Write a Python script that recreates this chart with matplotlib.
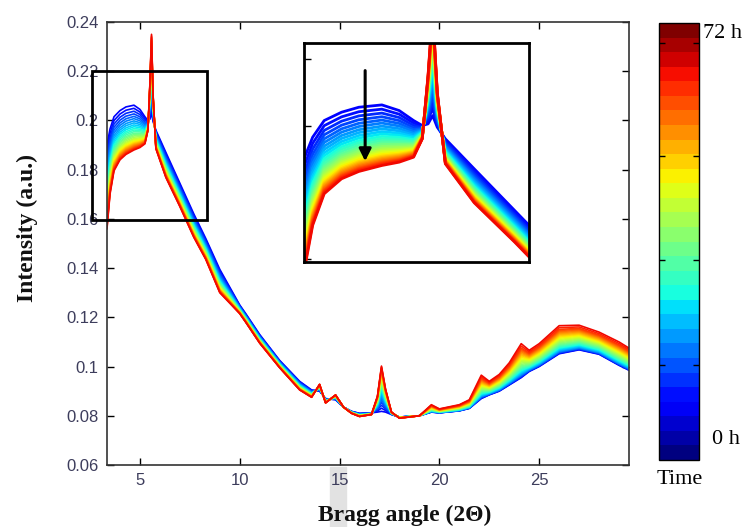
import numpy as np
import matplotlib
matplotlib.use("Agg")
import matplotlib.pyplot as plt
from matplotlib.colors import Normalize
from matplotlib.cm import ScalarMappable
from matplotlib.patches import Rectangle

# ---------------- data ----------------
two_theta = [3.35, 3.5, 3.7, 4.0, 4.3, 4.7, 5.0, 5.25, 5.4, 5.5, 5.58, 5.66, 5.8,
             6.3, 7.0, 7.7, 8.3, 9.0, 10.0, 10.3, 11.0, 12.0, 13.0, 13.6, 14.0,
             14.3, 14.8, 15.2, 15.6, 16.0, 16.6, 16.9, 17.1, 17.3, 17.6, 18.0,
             19.0, 19.6, 20.0, 21.0, 21.5, 22.1, 22.5, 23.0, 23.5, 24.1, 24.5,
             25.0, 26.0, 27.0, 28.0, 29.0, 29.5]
intensity_0h = [0.1900, 0.1965, 0.2015, 0.2040, 0.2055, 0.2062, 0.2045, 0.2015,
                0.2000, 0.2005, 0.2030, 0.1995, 0.1960, 0.1870, 0.1745, 0.1620,
                0.1520, 0.1395, 0.1250, 0.1215, 0.1130, 0.1025, 0.0940, 0.0905,
                0.0900, 0.0870, 0.0865, 0.0835, 0.0818, 0.0810, 0.0812, 0.0815,
                0.0818, 0.0815, 0.0805, 0.0795, 0.0800, 0.0815, 0.0812, 0.0820,
                0.0830, 0.0870, 0.0885, 0.0900, 0.0925, 0.0955, 0.0980, 0.1000,
                0.1052, 0.1068, 0.1050, 0.1005, 0.0985]
intensity_72h = [0.1560, 0.1700, 0.1795, 0.1840, 0.1862, 0.1880, 0.1890, 0.1905,
                 0.1960, 0.2150, 0.2350, 0.2100, 0.1885, 0.1768, 0.1650, 0.1525,
                 0.1435, 0.1300, 0.1215, 0.1180, 0.1095, 0.0995, 0.0905, 0.0875,
                 0.0928, 0.0852, 0.0885, 0.0835, 0.0810, 0.0797, 0.0805, 0.0880,
                 0.1002, 0.0910, 0.0815, 0.0790, 0.0800, 0.0845, 0.0828, 0.0845,
                 0.0865, 0.0965, 0.0940, 0.0968, 0.1015, 0.1093, 0.1066, 0.1093,
                 0.1166, 0.1168, 0.1140, 0.1100, 0.1075]
# position of each of the 30 scans inside the 0 h -> 72 h band
progress_low_angle = [0, 0.07, 0.135, 0.195, 0.25, 0.30, 0.35, 0.395, 0.44, 0.48,
                      0.52, 0.555, 0.59, 0.625, 0.655, 0.685, 0.715, 0.745, 0.77,
                      0.795, 0.82, 0.845, 0.865, 0.885, 0.905, 0.925, 0.945, 0.962,
                      0.98, 1.0]
progress_high_angle = [0, 0.015, 0.03, 0.045, 0.06, 0.08, 0.10, 0.125, 0.15, 0.18,
                       0.21, 0.245, 0.28, 0.315, 0.35, 0.39, 0.43, 0.47, 0.51, 0.55,
                       0.59, 0.63, 0.67, 0.71, 0.75, 0.79, 0.83, 0.87, 0.93, 1.0]
split_angle = 18.0
time_range = [0, 72]
xticks = [5, 10, 15, 20, 25]
yticks = [0.06, 0.08, 0.10, 0.12, 0.14, 0.16, 0.18, 0.20, 0.22, 0.24]
inset_yticks = [0.16, 0.18, 0.20, 0.22]
cbar_ticks = [15.6, 33.0, 50.1, 68.7]
zoom_box_x = [2.6, 8.37]
zoom_box_y = [0.1595, 0.22]

# ---------------- figure ----------------
fig = plt.figure(figsize=(7.52, 5.27), dpi=100)

# faint gray artefact behind the x tick labels
fig.patches.append(Rectangle((330/752, 0), 16/752, 60/527, transform=fig.transFigure,
                             color="#e2e2e2", zorder=-5))

ax = fig.add_axes([107/752, 1-465/527, (629-107)/752, (465-22)/527])
ax.patch.set_alpha(0)

x = np.array(two_theta)
y0 = np.array(intensity_0h)
y1 = np.array(intensity_72h)
n = len(progress_low_angle)
colors = plt.get_cmap("jet")(np.linspace(0.11, 0.9, n))

curves = []
for i in range(n):
    f = np.where(x < split_angle, progress_low_angle[i], progress_high_angle[i])
    curves.append(y0 + (y1 - y0) * f)

for i in range(n):
    ax.plot(x, curves[i], color=colors[i], lw=1.2)

ax.set_xlim(3.35, 29.5)
ax.set_ylim(0.06, 0.24)
ax.set_xticks(xticks)
ax.set_yticks(yticks)
ax.set_yticklabels([f"{v:g}" for v in yticks])
tick_color = "#3d3d5c"
ax.tick_params(direction="in", top=True, right=True, length=5, width=1,
               labelsize=12, labelcolor=tick_color, pad=6)
for lab in ax.get_xticklabels() + ax.get_yticklabels():
    lab.set_family("Liberation Sans")
for s in ax.spines.values():
    s.set_linewidth(1.2)
    s.set_color("#333333")

# zoom rectangle on main axes
ax.add_patch(Rectangle((zoom_box_x[0], zoom_box_y[0]),
                       zoom_box_x[1] - zoom_box_x[0], zoom_box_y[1] - zoom_box_y[0],
                       fill=False, ec="black", lw=2, clip_on=False, zorder=5))

# inset
axi = fig.add_axes([304/752, 1-262/527, (529-304)/752, (262-43)/527])
for i in range(n):
    axi.plot(x, curves[i], color=colors[i], lw=2.0)
axi.set_xlim(3.35, 7.25)
axi.set_ylim(0.159, 0.2248)
axi.set_xticks([])
axi.set_yticks(inset_yticks)
axi.set_yticklabels([])
axi.tick_params(direction="in", length=5, width=1)
for s in axi.spines.values():
    s.set_linewidth(2)
    s.set_color("black")
axi.annotate("", xy=(4.41, 0.1893), xytext=(4.41, 0.2165),
             arrowprops=dict(arrowstyle="-|>", color="black", lw=2.2,
                             mutation_scale=18, shrinkA=0, shrinkB=0))

# labels
fig.text(405/752, 1-521/527, "Bragg angle (2\u0398)", family="Liberation Serif",
         weight="bold", fontsize=17, ha="center", va="baseline", color="#111111")
fig.text(27/752, 1-228/527, "Intensity (a.u.)", family="Liberation Serif",
         weight="bold", fontsize=17, ha="center", va="center", rotation=90,
         color="#111111")

# colorbar
cax = fig.add_axes([659/752, 1-460/527, 40/752, (460-23)/527])
sm = ScalarMappable(norm=Normalize(*time_range), cmap=plt.get_cmap("jet", 30))
cb = fig.colorbar(sm, cax=cax)
cb.set_ticks(cbar_ticks)
cb.set_ticklabels([])
cax.tick_params(direction="in", left=True, right=True, length=4, width=1)
cb.outline.set_linewidth(1)
fig.text(703/752, 1-33/527, "72 h", family="Liberation Serif", fontsize=16,
         ha="left", va="center")
fig.text(712/752, 1-440/527, "0 h", family="Liberation Serif", fontsize=16,
         ha="left", va="center")
fig.text(680/752, 1-480/527, "Time", family="Liberation Serif", fontsize=16,
         ha="center", va="center")

fig.savefig("out.png", dpi=100)
